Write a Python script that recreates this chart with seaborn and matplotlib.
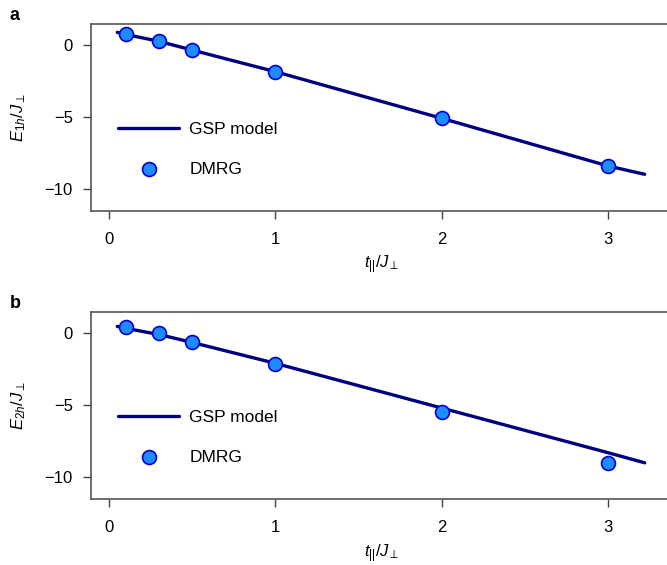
import numpy as np
import pandas as pd
import seaborn as sns
import matplotlib.pyplot as plt

sns.set_style("white")
plt.rcParams["font.family"] = ["Liberation Sans", "DejaVu Sans"]
plt.rcParams["mathtext.fontset"] = "custom"
plt.rcParams["mathtext.rm"] = "Liberation Sans"
plt.rcParams["mathtext.it"] = "Liberation Sans:italic"
plt.rcParams["text.color"] = "black"
plt.rcParams["axes.labelcolor"] = "black"
plt.rcParams["xtick.color"] = "#444444"
plt.rcParams["ytick.color"] = "#444444"
plt.rcParams["xtick.labelcolor"] = "black"
plt.rcParams["ytick.labelcolor"] = "black"

# DMRG points (t_par / J_perp)
t_dmrg = [0.1, 0.3, 0.5, 1.0, 2.0, 3.0]
e1h_dmrg = [0.74, 0.26, -0.35, -1.85, -5.09, -8.40]
e2h_dmrg = [0.39, 0.0, -0.60, -2.15, -5.50, -8.98]

# GSP model curves
t_model = [0.05, 0.1, 0.3, 0.5, 1.0, 2.0, 3.0, 3.22]
e1h_model = [0.88, 0.74, 0.26, -0.35, -1.85, -5.09, -8.40, -8.98]
e2h_model = [0.46, 0.33, -0.10, -0.65, -2.10, -5.20, -8.30, -9.00]

panels = [
    ("a", e1h_dmrg, e1h_model, r"$E_{1h}/J_{\perp}$"),
    ("b", e2h_dmrg, e2h_model, r"$E_{2h}/J_{\perp}$"),
]

fig = plt.figure(figsize=(6.67, 5.65), dpi=100)
ax_pos = [[0.1364, 0.6265, 0.8726, 0.331], [0.1364, 0.1163, 0.8726, 0.3315]]

for (tag, dmrg, model, ylab), pos in zip(panels, ax_pos):
    ax = fig.add_axes(pos)
    df_m = pd.DataFrame({"t": t_model, "E": model})
    df_d = pd.DataFrame({"t": t_dmrg, "E": dmrg})
    sns.lineplot(data=df_m, x="t", y="E", ax=ax, color="#00007f", lw=2.4,
                 label="GSP model")
    sns.scatterplot(data=df_d, x="t", y="E", ax=ax, s=100, color="#1e8cff",
                    edgecolor="#0000dd", linewidth=1.2, zorder=3, label="DMRG")
    ax.set_xlim(-0.108, 3.39)
    ax.set_ylim(-11.53, 1.46)
    ax.set_xticks([0, 1, 2, 3])
    ax.set_yticks([0, -5, -10])
    for sp in ax.spines.values():
        sp.set_color("#555555")
        sp.set_linewidth(1.2)
    ax.tick_params(axis="both", direction="out", length=6, width=1,
                   labelsize=12, left=True, bottom=True)
    ax.tick_params(axis="x", pad=9)
    ax.tick_params(axis="y", pad=7)
    ax.set_xlabel(r"$t_{||}/J_{\perp}$", fontsize=12, labelpad=5)
    ax.set_ylabel(ylab, fontsize=12, labelpad=12)
    ax.legend(loc="lower left", bbox_to_anchor=(0.02, 0.1), frameon=False,
              fontsize=12.5, handlelength=3.5, handletextpad=0.6,
              labelspacing=1.4)
    fig.text(0.014, pos[1] + pos[3] + 0.015, tag, fontsize=13,
             fontweight="bold", va="center")

plt.savefig("out.png", dpi=100)
